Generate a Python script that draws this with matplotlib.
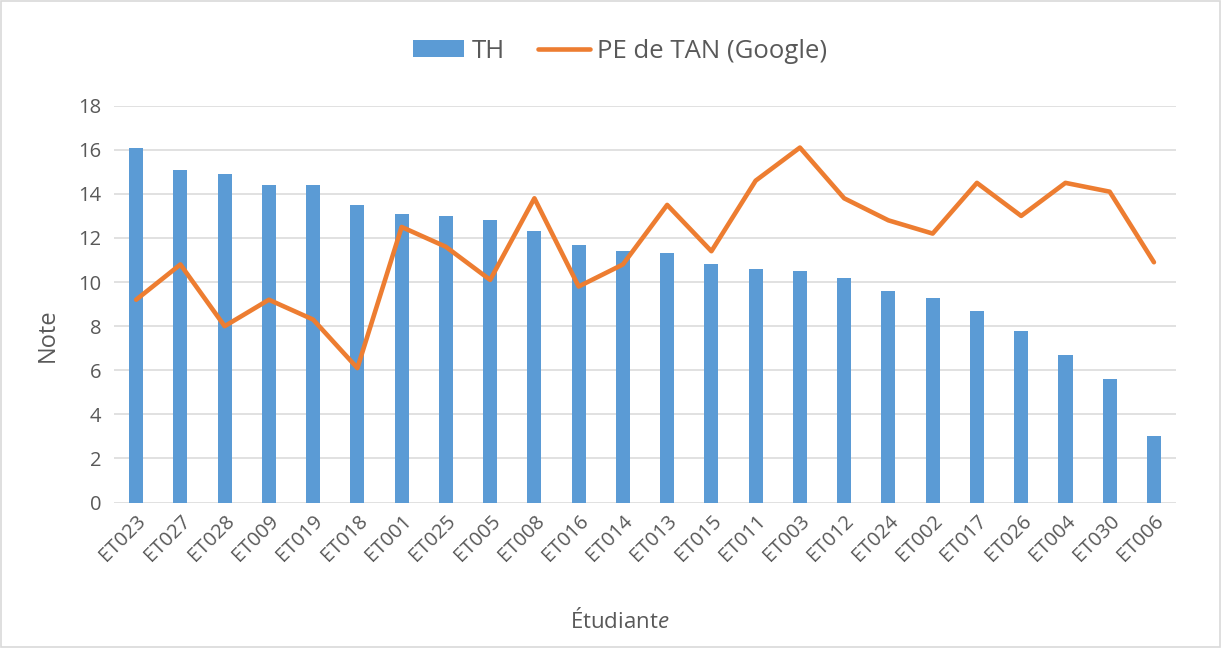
import matplotlib
matplotlib.use('Agg')
import matplotlib.pyplot as plt
import numpy as np
from matplotlib.patches import Rectangle

plt.rcParams['font.family'] = ['Open Sans', 'DejaVu Sans']
plt.rcParams['mathtext.fontset'] = 'custom'
plt.rcParams['mathtext.rm'] = 'Open Sans'
plt.rcParams['mathtext.it'] = 'Open Sans:italic'

# notes par étudiant·e
etudiants = ['ET023', 'ET027', 'ET028', 'ET009', 'ET019', 'ET018', 'ET001', 'ET025',
             'ET005', 'ET008', 'ET016', 'ET014', 'ET013', 'ET015', 'ET011', 'ET003',
             'ET012', 'ET024', 'ET002', 'ET017', 'ET026', 'ET004', 'ET030', 'ET006']
th = [16.1, 15.1, 14.9, 14.4, 14.4, 13.5, 13.1, 13.0, 12.8, 12.3, 11.7, 11.4,
      11.3, 10.8, 10.6, 10.5, 10.2, 9.6, 9.3, 8.7, 7.8, 6.7, 5.6, 3.0]
pe_tan = [9.2, 10.8, 8.0, 9.2, 8.3, 6.1, 12.5, 11.6, 10.1, 13.8, 9.8, 10.8,
          13.5, 11.4, 14.6, 16.1, 13.8, 12.8, 12.2, 14.5, 13.0, 14.5, 14.1, 10.9]
yticks = [0, 2, 4, 6, 8, 10, 12, 14, 16, 18]

txt = '#595959'
grid = '#d9d9d9'

fig = plt.figure(figsize=(12.22, 6.48), dpi=100)
ax = fig.add_axes([0.0933, 0.2244, 0.8691, 0.6125])

x = np.arange(len(etudiants))
barres = ax.bar(x, th, width=0.32, color='#5b9bd5', label='TH', zorder=2)
ligne, = ax.plot(x, pe_tan, color='#ed7d31', lw=3.3, solid_joinstyle='round',
                 solid_capstyle='round', label='PE de TAN (Google)', zorder=3)

ax.set_xlim(-0.5, len(etudiants) - 0.5)
ax.set_ylim(0, 18)
ax.set_yticks(yticks)
ax.set_xticks(x)
ax.set_xticklabels(etudiants, rotation=45, ha='right', rotation_mode='anchor')
ax.yaxis.grid(True, color=grid, lw=1.1, zorder=0)
ax.set_axisbelow(True)
for s in ax.spines.values():
    s.set_visible(False)
ax.tick_params(axis='both', length=0, labelsize=14.5, colors=txt)
ax.tick_params(axis='y', pad=9)
ax.tick_params(axis='x', pad=6)

# titres des axes
fig.text(48 / 1222, 1 - 335 / 648, 'Note', rotation=90, ha='center', va='center',
         fontsize=17, color=txt)
fig.text(620 / 1222, 1 - 620 / 648, 'Étudiant$\\mathit{e}$', ha='center', va='center',
         fontsize=16, color=txt)

fig.legend([barres, ligne], ['TH', 'PE de TAN (Google)'], loc='center',
           bbox_to_anchor=(620 / 1222, 1 - 51 / 648), ncol=2, frameon=False,
           fontsize=18.5, labelcolor=txt, handlelength=2.0, handleheight=0.65,
           columnspacing=1.3, handletextpad=0.3)

# cadre du graphique
fig.patches.append(Rectangle((0.001, 0.001), 0.997, 0.997, transform=fig.transFigure,
                             fill=False, edgecolor=grid, lw=1.2))

fig.savefig('out.png', dpi=100)
